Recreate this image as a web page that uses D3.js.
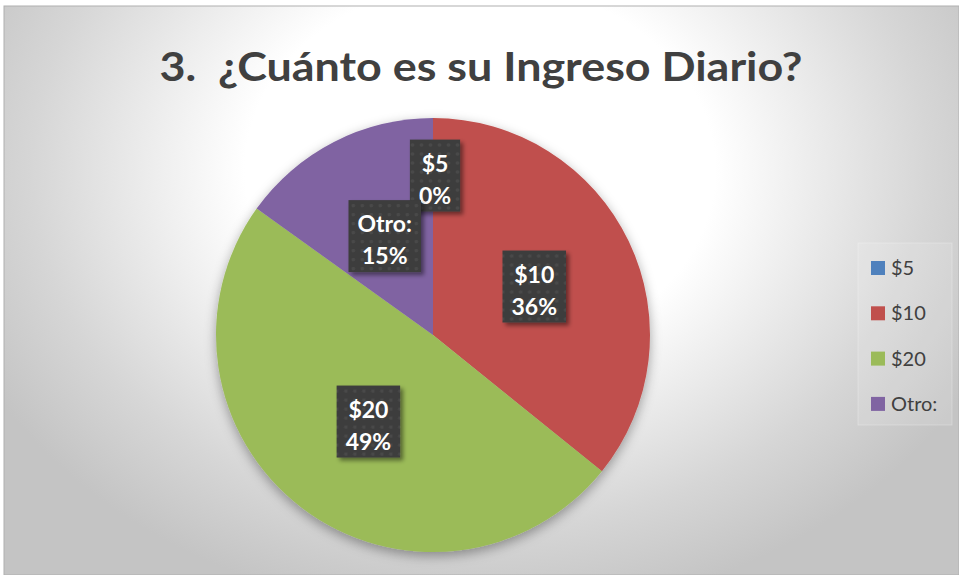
<!DOCTYPE html>
<html><head><meta charset="utf-8">
<script src="https://cdn.jsdelivr.net/npm/d3@7"></script>
<style>html,body{margin:0;padding:0;background:#fff;}svg{display:block;}</style>
</head><body>
<svg id="chart" width="959" height="575"></svg>
<script>
const title = "3.  ¿Cuánto es su Ingreso Diario?";
const categories = ["$5", "$10", "$20", "Otro:"];
const values = [0, 35.8, 49.1, 15.1];
const colors = ["#4f81bd", "#c0504d", "#9bbb59", "#8064a2"];

const W = 959, H = 575;
const svg = d3.select("#chart");
const defs = svg.append("defs");

const bg = defs.append("radialGradient").attr("id", "bg")
  .attr("gradientUnits", "userSpaceOnUse")
  .attr("cx", 480).attr("cy", 170).attr("r", 560)
  .attr("gradientTransform", "translate(480,170) scale(1,0.8) translate(-480,-170)");
bg.append("stop").attr("offset", "0").attr("stop-color", "#ffffff");
bg.append("stop").attr("offset", "0.42").attr("stop-color", "#ffffff");
bg.append("stop").attr("offset", "0.8").attr("stop-color", "#d6d6d6");
bg.append("stop").attr("offset", "1").attr("stop-color", "#c4c4c4");

const pieShadow = defs.append("filter").attr("id", "pieShadow")
  .attr("x", "-20%").attr("y", "-20%").attr("width", "140%").attr("height", "140%");
pieShadow.append("feDropShadow").attr("dx", 0).attr("dy", 4).attr("stdDeviation", 6)
  .attr("flood-color", "#000").attr("flood-opacity", 0.35);

const boxShadow = defs.append("filter").attr("id", "boxShadow")
  .attr("x", "-30%").attr("y", "-30%").attr("width", "160%").attr("height", "160%");
boxShadow.append("feDropShadow").attr("dx", 3).attr("dy", 3).attr("stdDeviation", 2)
  .attr("flood-color", "#000").attr("flood-opacity", 0.45);

const pat = defs.append("pattern").attr("id", "dots")
  .attr("patternUnits", "userSpaceOnUse").attr("width", 9).attr("height", 9);
pat.append("rect").attr("width", 9).attr("height", 9).attr("fill", "#3d3d3d");
pat.append("circle").attr("cx", 4.5).attr("cy", 4.5).attr("r", 1.8).attr("fill", "#4a4a4a");

// background
svg.append("rect").attr("x", 4).attr("y", 6).attr("width", W - 4).attr("height", H - 6)
  .attr("fill", "url(#bg)").attr("stroke", "#b0b0b0").attr("stroke-width", 1);

// title
const t = svg.append("text")
  .attr("x", 481).attr("y", 81)
  .attr("text-anchor", "middle")
  .style("white-space", "pre")
  .attr("font-family", "Lato, 'Open Sans', sans-serif")
  .attr("font-weight", "bold").attr("font-size", 41)
  .attr("fill", "#404040")
  .text(title);
t.attr("textLength", 643).attr("lengthAdjust", "spacingAndGlyphs");

// pie
const cx = 433, cy = 335, R = 217;
const pie = d3.pie().sort(null).value(d => d.value).startAngle(0).endAngle(2 * Math.PI);
const data = categories.map((c, i) => ({ cat: c, value: values[i], color: colors[i] }));
const arcs = pie(data);
const arc = d3.arc().innerRadius(0).outerRadius(R);
const total = d3.sum(values);

const g = svg.append("g").attr("transform", `translate(${cx},${cy})`);
g.append("g").attr("filter", "url(#pieShadow)")
  .selectAll("path").data(arcs).join("path")
  .attr("d", arc).attr("fill", d => d.data.color);

// labels
const labelArc = d3.arc().innerRadius(R * 0.507).outerRadius(R * 0.507);
const zeroArc = d3.arc().innerRadius(R * 0.73).outerRadius(R * 0.73);
const lg = g.append("g");
arcs.forEach(a => {
  const c = a.value === 0 ? zeroArc.centroid(a) : labelArc.centroid(a);
  const pct = Math.round(a.value / total * 100) + "%";
  const grp = lg.append("g").attr("transform", `translate(${c[0] + 2},${c[1]})`);
  const rect = grp.append("rect").attr("fill", "url(#dots)").attr("filter", "url(#boxShadow)");
  const txt = grp.append("text")
    .attr("text-anchor", "middle")
    .attr("font-family", "Lato, 'Open Sans', sans-serif")
    .attr("font-weight", "bold").attr("font-size", 23)
    .attr("fill", "#ffffff");
  txt.append("tspan").attr("x", 0).attr("y", -5).text(a.data.cat);
  txt.append("tspan").attr("x", 0).attr("y", 27).text(pct);
  const bb = txt.node().getBBox();
  const w = bb.width + 18, h = 72;
  rect.attr("x", -w / 2).attr("y", -h / 2 - 1).attr("width", w).attr("height", h);
});

// legend
const legX = 871, legY0 = 268, legStep = 45.3;
svg.append("rect").attr("x", 858).attr("y", 243).attr("width", 94).attr("height", 182)
  .attr("fill", "#ffffff").attr("fill-opacity", 0.12)
  .attr("stroke", "#ffffff").attr("stroke-opacity", 0.25);
const leg = svg.append("g").selectAll("g").data(data).join("g")
  .attr("transform", (d, i) => `translate(${legX},${legY0 + i * legStep})`);
leg.append("rect").attr("x", 0).attr("y", -7).attr("width", 14).attr("height", 14)
  .attr("fill", d => d.color);
leg.append("text").attr("x", 20).attr("y", 7)
  .attr("font-family", "Lato, 'Open Sans', sans-serif").attr("font-size", 20)
  .attr("fill", "#404040").text(d => d.cat);
</script>
</body></html>
